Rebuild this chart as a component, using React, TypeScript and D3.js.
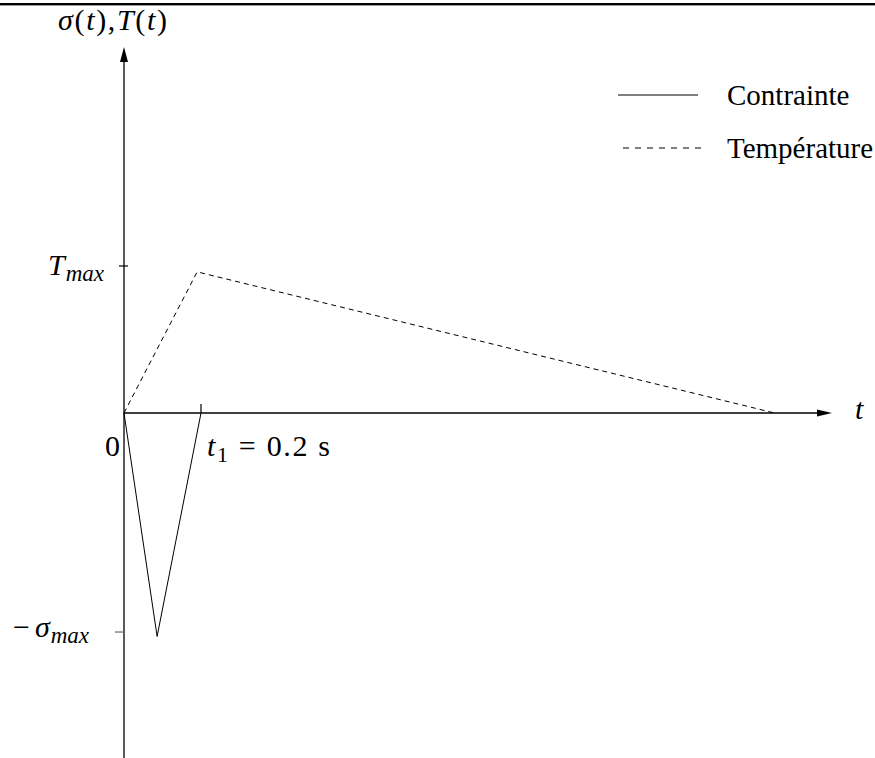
import React, { useEffect, useRef } from "react";
import * as d3 from "d3";

const W = 875;
const H = 758;

// time in seconds, values in units of T_max
const tempTimes = [0, 0.19, 1.69];
const tempValues = [0, 0.96, 0];
const stressTimes = [0, 0.086, 0.2];
const stressValues = [0, -1.52, 0];

const t1 = 0.2;
const sigmaMax = -1.49;
const tMax = 1;

const legendNames = ["Contrainte", "Température"];
const legendDash = ["none", "6,6"];

const serif = "'Liberation Serif', 'Times New Roman', serif";

export default function App() {
  const svgRef = useRef<SVGSVGElement>(null);

  useEffect(() => {
    const svg = d3.select(svgRef.current);
    svg.selectAll("*").remove();

    const x = d3.scaleLinear().domain([0, t1]).range([124, 201]);
    const y = d3.scaleLinear().domain([0, tMax]).range([413, 266]);

    const x0 = x(0);
    const y0 = y(0);

    // top rule
    svg.append("rect")
      .attr("x", 0).attr("y", 3)
      .attr("width", W).attr("height", 2.4)
      .attr("fill", "black");

    // axes
    svg.append("line")
      .attr("x1", x0).attr("x2", x0)
      .attr("y1", H).attr("y2", 58)
      .attr("stroke", "black").attr("stroke-width", 1.3);
    svg.append("path")
      .attr("d", `M${x0},47 L${x0 - 4},62 L${x0 + 4},62 Z`)
      .attr("fill", "black");

    svg.append("line")
      .attr("x1", x0).attr("x2", 820)
      .attr("y1", y0).attr("y2", y0)
      .attr("stroke", "black").attr("stroke-width", 1.3);
    svg.append("path")
      .attr("d", `M832,${y0} L817,${y0 - 3.5} L817,${y0 + 3.5} Z`)
      .attr("fill", "black");

    // ticks
    svg.append("line")
      .attr("x1", x0 - 5).attr("x2", x0 + 4)
      .attr("y1", y(tMax)).attr("y2", y(tMax))
      .attr("stroke", "black").attr("stroke-width", 1.2);
    svg.append("line")
      .attr("x1", x0 - 9).attr("x2", x0)
      .attr("y1", y(sigmaMax)).attr("y2", y(sigmaMax))
      .attr("stroke", "#666").attr("stroke-width", 1.2);
    svg.append("line")
      .attr("x1", x(t1)).attr("x2", x(t1))
      .attr("y1", y0 - 9).attr("y2", y0)
      .attr("stroke", "black").attr("stroke-width", 1.2);

    // curves
    const line = d3.line<[number, number]>()
      .x(d => x(d[0]))
      .y(d => y(d[1]));

    svg.append("path")
      .attr("d", line(tempTimes.map((t, i) => [t, tempValues[i]] as [number, number])))
      .attr("fill", "none")
      .attr("stroke", "black")
      .attr("stroke-width", 1)
      .attr("stroke-dasharray", "5,4");

    svg.append("path")
      .attr("d", line(stressTimes.map((t, i) => [t, stressValues[i]] as [number, number])))
      .attr("fill", "none")
      .attr("stroke", "black")
      .attr("stroke-width", 1);

    // math labels; a few are stretched to the width of the LaTeX originals
    const math = (xx: number, yy: number, width: number | null, parts: [string, string, number?][]) => {
      const txt = svg.append("text")
        .attr("x", xx).attr("y", yy)
        .attr("font-family", serif)
        .attr("font-size", 30)
        .attr("fill", "black");
      if (width) txt.attr("textLength", width).attr("lengthAdjust", "spacing");
      parts.forEach(([kind, s, dx]) => {
        const sp = txt.append("tspan").text(s);
        if (dx) sp.attr("dx", dx);
        if (kind === "i") sp.attr("font-style", "italic");
        if (kind === "sub") sp.attr("font-style", "italic").attr("font-size", 23).attr("dy", 6);
        if (kind === "subr") sp.attr("font-size", 22).attr("dy", 6);
        if (kind === "up") sp.attr("dy", -6);
      });
      return txt;
    };

    math(58, 30, 109, [["i", "σ"], ["r", "("], ["i", "t"], ["r", "),"], ["i", "T"], ["r", "("], ["i", "t"], ["r", ")"]]);
    math(48, 275, null, [["i", "T"], ["sub", "max", 1]]);
    math(105, 456, null, [["r", "0"]]);
    math(207, 456, 123, [["i", "t"], ["subr", "1"], ["up", " = 0.2 s"]]);
    math(13, 637, null, [["r", "−"], ["i", "σ", 5], ["sub", "max", 1]]);
    math(855, 419, null, [["i", "t"]]);

    // legend
    legendNames.forEach((name, i) => {
      const ly = i === 0 ? 95 : 148;
      svg.append("line")
        .attr("x1", i === 0 ? 618 : 623).attr("x2", i === 0 ? 698 : 703)
        .attr("y1", ly).attr("y2", ly)
        .attr("stroke", "black").attr("stroke-width", 1)
        .attr("stroke-dasharray", legendDash[i]);
      svg.append("text")
        .attr("x", 727).attr("y", ly + 10)
        .attr("font-family", serif)
        .attr("font-size", 29)
        .attr("fill", "black")
        .text(name);
    });
  }, []);

  return (
    <svg
      ref={svgRef}
      width={W}
      height={H}
      style={{ position: "absolute", left: 0, top: 0, background: "white" }}
    ></svg>
  );
}
